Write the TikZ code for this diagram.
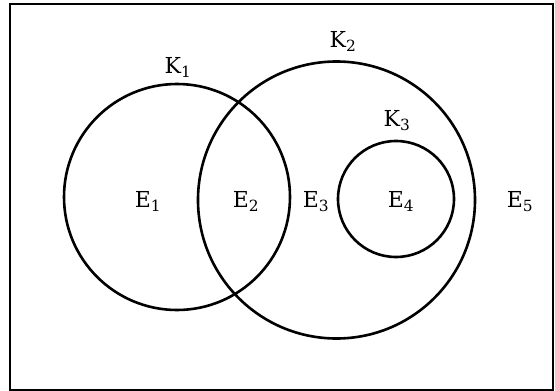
\documentclass[tikz,border=0pt]{standalone}
\usepackage{fontspec}
\setmainfont{DejaVu Serif}
\begin{document}
\begin{tikzpicture}[x=1pt,y=-1pt,
  ring/.style={draw=black,line width=2.6pt,circle,inner sep=0pt},
  lab/.style={font=\fontsize{22}{24}\selectfont,inner sep=0pt,anchor=base}]
\useasboundingbox (0,0) rectangle (555,391);
\node[draw=black,line width=2.8pt,minimum width=543pt,minimum height=386pt,inner sep=0pt] (frame) at (281.5,197) {};
\node[ring,minimum size=226pt] (k1) at (177,197) {};
\node[ring,minimum size=277pt] (k2) at (336.5,200) {};
\node[ring,minimum size=116pt] (k3) at (396,199) {};
\node[lab] (lk1) at (178,73) {K\textsubscript{1}};
\node[lab] (lk2) at (343,47) {K\textsubscript{2}};
\node[lab] (lk3) at (397,126) {K\textsubscript{3}};
\node[lab] (le1) at (148,207) {E\textsubscript{1}};
\node[lab] (le2) at (246,207) {E\textsubscript{2}};
\node[lab] (le3) at (316,207) {E\textsubscript{3}};
\node[lab] (le4) at (401,207) {E\textsubscript{4}};
\node[lab] (le5) at (520,207) {E\textsubscript{5}};
\end{tikzpicture}
\end{document}
